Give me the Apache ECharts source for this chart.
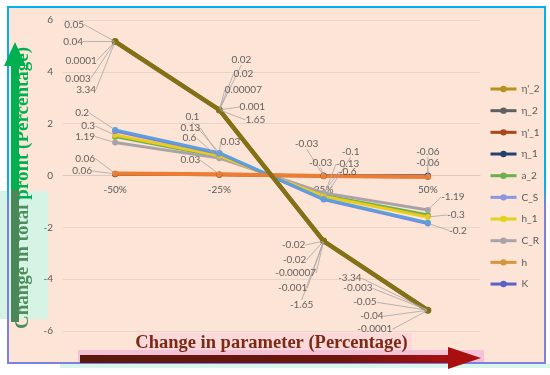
<!DOCTYPE html>
<html><head><meta charset="utf-8">
<script src="https://cdn.jsdelivr.net/npm/echarts@6/dist/echarts.min.js"></script>
<style>html,body{margin:0;padding:0;background:#fff}#c{width:550px;height:375px}</style>
</head><body><div id="c"></div>
<script>
// ---------- DATA ----------
const categories = ['-50%', '-25%', '25%', '50%'];
const yTicks = { min: -6, max: 6, interval: 2 };

const etaP2 = [5.17, 2.53, -2.53, -5.2];   // η'_2
const eta2  = [5.17, 2.53, -2.53, -5.2];   // η_2
const etaP1 = [0.06, 0.03, -0.03, -0.06];  // η'_1
const eta1  = [0.05, 0.03, 0.0, 0.0];      // η_1
const a2    = [1.5, 0.73, -0.76, -1.52];   // a_2
const CS    = [1.76, 0.87, -0.91, -1.82];  // C_S
const h1    = [1.56, 0.76, -0.8, -1.6];    // h_1
const CR    = [1.27, 0.67, -0.67, -1.33];  // C_R
const h     = [0.08, 0.05, -0.02, -0.05];  // h
const K     = [1.72, 0.85, -0.93, -1.85];  // K

// data labels (text) shown next to the points
const upperLabelText = [
  ['0.05', '0.04', '0.0001', '0.003', '3.34'],
  ['0.02', '0.02', '0.00007', '0.001', '1.65'],
  ['-0.02', '-0.02', '-0.00007', '-0.001', '-1.65'],
  ['-3.34', '-0.003', '-0.05', '-0.04', '-0.0001']
];
const lowerLabelText = [
  ['0.2', '0.3', '1.19', '0.06', '0.06'],
  ['0.1', '0.13', '0.6', '0.03', '0.03'],
  ['-0.03', '-0.1', '-0.03', '-0.13', '-0.6'],
  ['-0.06', '-0.06', '-1.19', '-0.3', '-0.2']
];
const lowerLabelAnchor = [
  ['C_S', 'h_1', 'C_R', 'h', "η'_1"],
  ['C_S', 'h_1', 'C_R', 'C_S', 'h'],
  ['h', 'C_S', 'η_1', 'h_1', 'C_R'],
  ['η_1', 'h', 'C_R', 'h_1', 'K']
];

// ---------- LAYOUT (label offsets in px, relative to anchor point) ----------
const upperOffsets = [
  [[-41, -17], [-42, 0], [-34, 19], [-37, 37], [-29, 48]],
  [[22, -50], [24, -36], [24, -20], [33, -3], [36, 10]],
  [[-30, 4], [-29, 19], [-28, 32], [-31, 47], [-22, 64]],
  [[-78, -32], [-70, -22], [-63, -8], [-56, 6], [-53, 19]]
];
const lowerOffsets = [
  [[-33, -17], [-27, -9], [-30, -6], [-30, -15], [-33, -3]],
  [[-27, -36], [-29, -28], [-30, -20], [11, -11], [-29, -14]],
  [[-17, -32], [27, -47], [-3, -13], [24, -32], [24, -21]],
  [[0, -24], [0, -14], [25, -13], [28, -2], [30, 7]]
];

const seriesDefs = [
  // drawing order (bottom -> top)
  { name: 'a_2',  data: a2,    color: '#6AB04C', legend: '#6AB04C', width: 3 },
  { name: 'C_R',  data: CR,    color: '#A9A3A7', legend: '#A9A3A7', width: 3 },
  { name: 'h_1',  data: h1,    color: '#EBCB1C', legend: '#E2D21E', width: 3 },
  { name: 'K',    data: K,     color: '#8478DE', legend: '#5B61C9', width: 3 },
  { name: 'C_S',  data: CS,    color: '#5BA0DB', legend: '#8A96DF', width: 3 },
  { name: 'η_1',  data: eta1,  color: '#24406E', legend: '#24406E', width: 2.5 },
  { name: "η'_1", data: etaP1, color: '#B0501E', legend: '#A9461B', width: 3 },
  { name: 'h',    data: h,     color: '#EC7D34', legend: '#D4963C', width: 4 },
  { name: 'η_2',  data: eta2,  color: '#606060', legend: '#606060', width: 4 },
  { name: "η'_2", data: etaP2, color: '#847115', legend: '#B8901E', width: 4.5 }
];
const legendOrder = ["η'_2", 'η_2', "η'_1", 'η_1', 'a_2', 'C_S', 'h_1', 'C_R', 'h', 'K'];

const byName = {};
seriesDefs.forEach(s => byName[s.name] = s);

const labelItems = [], labelOffsets = [];
upperLabelText.forEach((arr, ci) => arr.forEach((t, k) => {
  labelItems.push({ name: t, value: [ci, etaP2[ci]] });
  labelOffsets.push(upperOffsets[ci][k]);
}));
lowerLabelText.forEach((arr, ci) => arr.forEach((t, k) => {
  const s = byName[lowerLabelAnchor[ci][k]].data;
  labelItems.push({ name: t, value: [ci, s[ci]] });
  labelOffsets.push(lowerOffsets[ci][k]);
}));

const FONT = 'Lato, "Open Sans", sans-serif';
const SERIF = '"Liberation Serif", "DejaVu Serif", serif';

const GRID = { left: 63, right: 70, top: 20, bottom: 44 };
const plotH = 375 - GRID.top - GRID.bottom;
// place the category axis at value 0 (symmetric y range -> middle of plot)
const zeroShift = plotH * (0 - yTicks.min) / (yTicks.max - yTicks.min);

const series = seriesDefs.map(s => ({
  type: 'line', name: s.name, data: s.data,
  symbol: 'circle', symbolSize: s.name === "η'_2" ? 7 : 6,
  lineStyle: { color: s.color, width: s.width },
  itemStyle: { color: s.color },
  emphasis: { disabled: true }
}));
series.push({
  type: 'scatter', name: '__labels', silent: true, z: 20,
  symbolSize: 2, itemStyle: { color: 'rgba(0,0,0,0)' },
  data: labelItems,
  label: { show: true, formatter: '{b}', fontSize: 10, color: '#404040', fontFamily: FONT },
  labelLine: { show: true, lineStyle: { color: '#A6A6A6', width: 0.8 } },
  labelLayout: function (p) {
    const o = labelOffsets[p.dataIndex];
    const cx = p.rect.x + p.rect.width / 2, cy = p.rect.y + p.rect.height / 2;
    return { x: cx + o[0], y: cy + o[1], align: 'center', verticalAlign: 'middle' };
  },
  emphasis: { disabled: true }
});

const chart = echarts.init(document.getElementById('c'));
chart.setOption({
  animation: false,
  backgroundColor: '#ffffff',
  grid: Object.assign({ outerBoundsMode: 'none', containLabel: false }, GRID),
  legend: {
    orient: 'vertical', left: 484, top: 78,
    itemWidth: 26, itemHeight: 8, itemGap: 9.67,
    textStyle: { fontSize: 10, color: '#595959', fontFamily: FONT, lineHeight: 12 },
    data: legendOrder.map(n => ({
      name: n,
      itemStyle: { color: byName[n].legend },
      lineStyle: { color: byName[n].legend, width: 3 }
    }))
  },
  xAxis: {
    type: 'category', data: categories, boundaryGap: true,
    offset: -zeroShift,
    axisTick: { show: false },
    axisLine: { onZero: false, lineStyle: { color: '#DCCABF' } },
    axisLabel: { fontSize: 10, color: '#595959', margin: 9, fontFamily: FONT },
    name: 'Change in parameter (Percentage)', nameLocation: 'middle', nameGap: 158,
    nameTextStyle: { fontFamily: SERIF, fontWeight: 'bold', fontSize: 18.5, color: '#7B2A16' }
  },
  yAxis: {
    type: 'value', min: yTicks.min, max: yTicks.max, interval: yTicks.interval,
    axisLine: { show: false }, axisTick: { show: false },
    splitLine: { lineStyle: { color: '#E8D5C9' } },
    axisLabel: { fontSize: 10, color: '#595959', margin: 10, fontFamily: FONT },
    name: '{a|Change in total }{b|profit (Percentage)}', nameLocation: 'middle', nameGap: 17,
    nameTextStyle: {
      fontFamily: SERIF, fontWeight: 'bold', fontSize: 19, padding: [0, 25, 0, 0],
      rich: {
        a: { fontFamily: SERIF, fontWeight: 'bold', fontSize: 19, color: '#4F8D5E' },
        b: { fontFamily: SERIF, fontWeight: 'bold', fontSize: 19, color: '#00B050' }
      }
    }
  },
  graphic: [
    { type: 'rect', z: -2, shape: { x: 8, y: 7, width: 537, height: 356 }, style: { fill: '#FCE4D6' } },
    { type: 'rect', z: -1, shape: { x: 0, y: 191, width: 48, height: 128 }, style: { fill: '#D6F4E6' } },
    { type: 'rect', z: -1, shape: { x: 138, y: 333, width: 274, height: 18 }, style: { fill: '#FBD9DA' } },
    { type: 'rect', z: -1, shape: { x: 78, y: 350, width: 406, height: 18 }, style: { fill: '#F5C1D6' } },
    { type: 'rect', z: -1, shape: { x: 60, y: 364, width: 490, height: 4 }, style: { fill: '#D8F6EE' } },
    { type: 'rect', z: 1, shape: { x: 8, y: 7, width: 537, height: 356 },
      style: { fill: null, lineWidth: 2,
        stroke: new echarts.graphic.LinearGradient(0, 0, 0, 1, [
          { offset: 0, color: '#00B0F0' }, { offset: 0.5, color: '#00B0F0' },
          { offset: 0.56, color: '#7C80E2' }, { offset: 1, color: '#7C80E2' }]) } },
    // green vertical arrow
    { type: 'polygon', z: 5, shape: { points: [[15, 42], [26, 66], [19, 66], [19, 190], [11, 190], [11, 66], [4, 66]] },
      style: { fill: '#00B050' } },
    { type: 'rect', z: 5, shape: { x: 11, y: 190, width: 8, height: 132 }, style: { fill: '#4C8758' } },
    // dark red horizontal arrow
    { type: 'rect', z: 5, shape: { x: 80, y: 355, width: 370, height: 8 },
      style: { fill: new echarts.graphic.LinearGradient(0, 0, 1, 0, [
        { offset: 0, color: '#5A1A0C' }, { offset: 0.7, color: '#6E160E' }, { offset: 1, color: '#A81010' }]) } },
    { type: 'polygon', z: 5, shape: { points: [[448, 347], [481, 358], [448, 369]] }, style: { fill: '#A90F0F' } }
  ],
  series: series
});
</script></body></html>
